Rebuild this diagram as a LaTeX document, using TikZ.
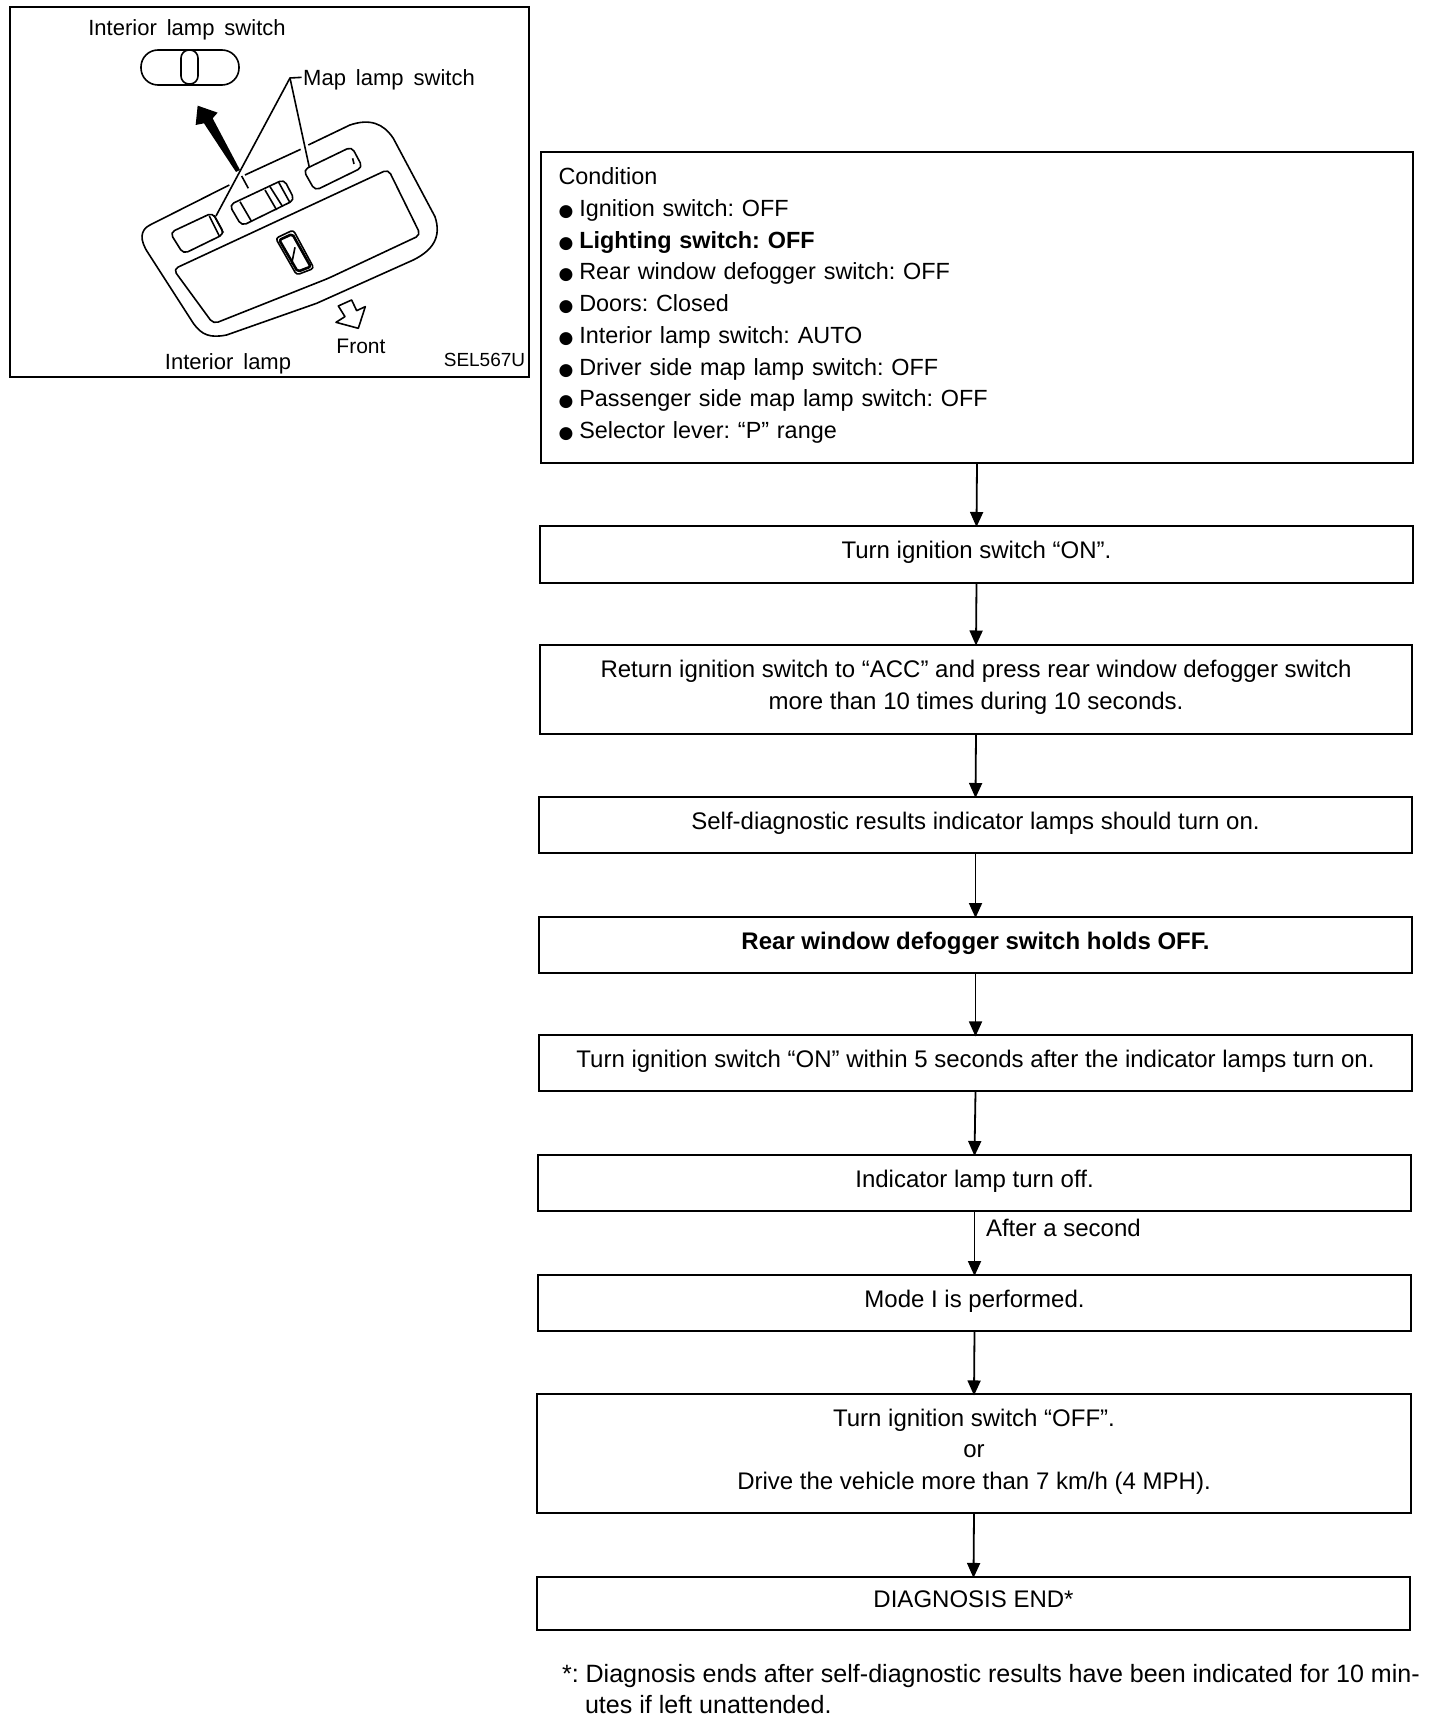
\documentclass[tikz,border=0pt]{standalone}
\usepackage{fontspec}
\setmainfont{Liberation Sans}
\newfontfamily\blt{DejaVu Sans}
\usetikzlibrary{arrows.meta}
\frenchspacing
\newcommand\bul{{\blt\fontsize{17}{17}\selectfont ●}\hspace{6pt}}
\newcommand\insetfont{\fontsize{22}{24}\selectfont\spaceskip=10pt\relax}
\tikzset{
  boxbase/.style={draw=black,line width=2pt,inner sep=0pt,outer sep=0pt,fill=white,
    font=\fontsize{24}{31.7}\selectfont},
  stepbox/.style={boxbase,align=center,text depth=9pt},
  flow/.style={draw=black,line width=1.8pt,-{Triangle[length=15pt,width=13pt]},shorten >=-1pt},
  plain/.style={inner sep=0pt,outer sep=0pt,font=\fontsize{24}{31.7}\selectfont},
  insetlabel/.style={inner sep=0pt,outer sep=0pt,font=\insetfont},
  sketch/.style={draw=black,line width=1.6pt,line join=round},
  sketchthick/.style={draw=black,line width=2.6pt,line join=round},
}
\begin{document}
\begin{tikzpicture}[x=1pt,y=-1pt]
\useasboundingbox (0,0) rectangle (1440,1720);
\fill[white] (0,0) rectangle (1440,1720);

% inset frame
\draw[line width=2pt] (10,7) rectangle (529,377);
\node[insetlabel] (lisw) at (187,30) {Interior lamp switch};
\node[insetlabel] (lmap) at (389,80) {Map lamp switch};
\node[insetlabel] (lint) at (228,364) {Interior lamp};
\node[insetlabel,font=\fontsize{21}{24}\selectfont] (lfront) at (361,346) {Front};
\node[insetlabel,font=\fontsize{19}{24}\selectfont] (lsel) at (484.5,360) {SEL567U};

% interior lamp switch
\draw[sketch,rounded corners=17pt] (141,50) rectangle (239,85);
\draw[sketch,rounded corners=8pt] (181,50) rectangle (198,84);

\begin{scope}[shift={(130,90)},scale=0.3333]
  % big arrow
  \fill[black] (203,47) -- (263,68) -- (248,85) -- (330,240) -- (318,246) -- (222,100) -- (197,105) -- cycle;
  % leaders
  \draw[sketch] (515,-38) -- (480,-36) -- (258,378);
  \draw[sketch] (480,-36) -- (538,232);
  % housing
  \draw[sketch] (298,285) -- (60,405) .. controls (30,420) and (28,450) .. (55,490)
     -- (190,700) .. controls (215,735) and (240,745) .. (290,735)
     -- (560,640) -- (850,510) .. controls (910,480) and (935,440) .. (915,380)
     -- (790,145) .. controls (760,100) and (720,85) .. (660,105) -- (535,165);
  \draw[sketch] (512,178) -- (345,255);
  \draw[sketch] (335,258) -- (355,295);
  % inner panel
  \draw[sketch,rounded corners=5pt] (130,538) -- (775,238) -- (872,435) -- (595,565) -- (250,702) -- cycle;
  % left switch
  \draw[sketch,rounded corners=5pt] (120,428) -- (248,368) -- (283,432) -- (160,492) -- cycle;
  \draw[sketch] (238,378) -- (268,438);
  \draw[sketch] (252,376) -- (280,428);
  % centre switch
  \draw[sketch,rounded corners=5pt] (298,345) -- (462,268) -- (494,330) -- (335,408) -- cycle;
  \draw[sketch] (330,335) -- (365,395);
  \draw[sketch] (405,300) -- (440,360);
  \draw[sketch] (420,290) -- (458,350);
  \draw[sketch] (445,275) -- (480,338);
  % right switch
  \draw[sketch,rounded corners=5pt] (520,240) -- (665,170) -- (698,232) -- (555,302) -- cycle;
  \draw[sketch] (668,205) -- (672,222);
  % centre lens
  \draw[sketch,rounded corners=3pt] (437,445) -- (490,420) -- (552,535) -- (500,555) -- cycle;
  \draw[sketchthick,rounded corners=2pt] (448,450) -- (487,432) -- (542,530) -- (503,545) -- cycle;
  \draw[sketch] (495,472) -- (485,522);
  % front arrow
  \draw[sketch] (625,648) -- (665,630) -- (680,662) -- (706,650) -- (685,715) -- (618,697) -- (645,680) -- cycle;
\end{scope}

% flow boxes
\node[boxbase,minimum width=872pt,minimum height=310pt,text width=837pt,align=left,font=\fontsize{23.4}{31.7}\selectfont] (b1) at (977,307.5) {%
Condition\\
\bul Ignition switch: OFF\\
\bul \textbf{Lighting switch: OFF}\\
\bul Rear window defogger switch: OFF\\
\bul Doors: Closed\\
\bul Interior lamp switch: AUTO\\
\bul Driver side map lamp switch: OFF\\
\bul Passenger side map lamp switch: OFF\\
\bul Selector lever: “P” range\\[-23pt]\mbox{}};
\node[stepbox,minimum width=873pt,minimum height=57pt] (b2) at (976.5,554.5) {Turn ignition switch “ON”.};
\node[stepbox,minimum width=872pt,minimum height=89pt] (b3) at (976,689) {Return ignition switch to “ACC” and press rear window defogger switch\\more than 10 times during 10 seconds.};
\node[stepbox,minimum width=873pt,minimum height=56pt] (b4) at (975.5,825) {Self-diagnostic results indicator lamps should turn on.};
\node[stepbox,minimum width=873pt,minimum height=56pt] (b5) at (975.5,945) {\textbf{Rear window defogger switch holds OFF.}};
\node[stepbox,minimum width=873pt,minimum height=56pt] (b6) at (975.5,1063.4) {Turn ignition switch “ON” within 5 seconds after the indicator lamps turn on.};
\node[stepbox,minimum width=873pt,minimum height=56pt] (b7) at (974.5,1183) {Indicator lamp turn off.};
\node[stepbox,minimum width=873pt,minimum height=56pt] (b8) at (974.5,1303) {Mode I is performed.};
\node[stepbox,minimum width=874pt,minimum height=118.5pt] (b9) at (974,1453.7) {Turn ignition switch “OFF”.\\or\\Drive the vehicle more than 7 km/h (4 MPH).};
\node[stepbox,minimum width=873pt,minimum height=53.5pt] (b10) at (973.5,1603.7) {DIAGNOSIS END*};

\draw[flow] (b1.south) -- (b2.north);
\draw[flow] (b2.south) -- (b3.north);
\draw[flow] (b3.south) -- (b4.north);
\draw[flow] (b4.south) -- (b5.north);
\draw[flow] (b5.south) -- (b6.north);
\draw[flow] (b6.south) -- (b7.north);
\draw[flow] (b7.south) -- (b8.north);
\draw[flow] (b8.south) -- (b9.north);
\draw[flow] (b9.south) -- (b10.north);

\node[plain,anchor=west] (after) at (986,1228) {After a second};
\node[plain,anchor=north west,align=left,font=\fontsize{25.05}{31.7}\selectfont] (foot) at (562,1664) {*: Diagnosis ends after self-diagnostic results have been indicated for 10 min-\\\hspace*{23pt}utes if left unattended.};
\end{tikzpicture}
\end{document}
